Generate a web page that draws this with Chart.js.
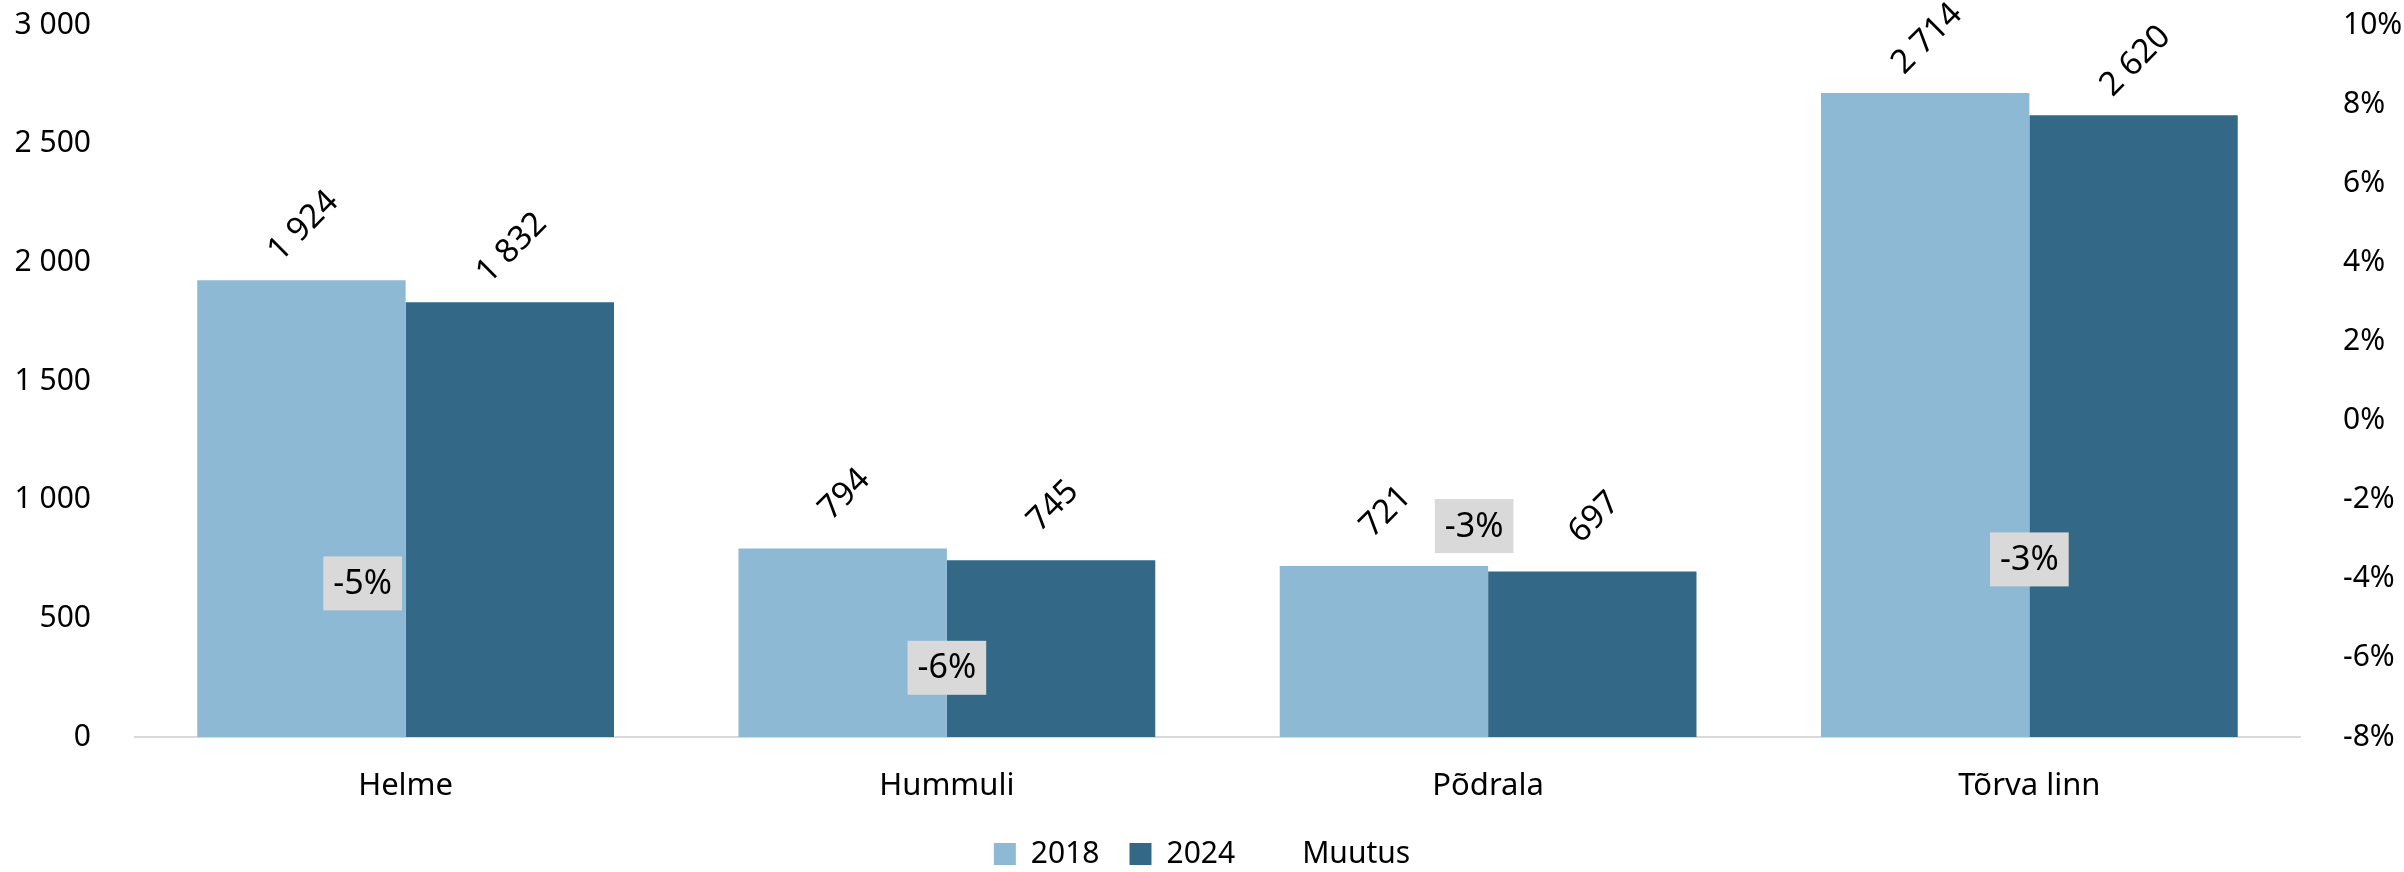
<!DOCTYPE html>
<html>
<head>
<meta charset="utf-8">
<script src="https://cdn.jsdelivr.net/npm/chart.js@4.4.1/dist/chart.umd.min.js"></script>
<style>
  html, body { margin: 0; padding: 0; background: #fff; }
  #wrap { width: 2404px; height: 872px; }
</style>
</head>
<body>
<div id="wrap"><canvas id="chart"></canvas></div>
<script>
var categories = ["Helme", "Hummuli", "Põdrala", "Tõrva linn"];
var values2018 = [1924, 794, 721, 2714];
var values2024 = [1832, 745, 697, 2620];
var change = [-4.8, -6.2, -3.3, -3.46];   // Muutus, %
var leftTicks = [0, 500, 1000, 1500, 2000, 2500, 3000];
var rightTicks = [-8, -6, -4, -2, 0, 2, 4, 6, 8, 10];

// the % labels were moved by hand in the original, keep those nudges (px)
var labelShift = [[-43, -27], [0, 2], [-14, -25], [0, 2]];

var FONT = '"Noto Sans", "Open Sans", sans-serif';

function fmt(n) {
  return String(n).replace(/\B(?=(\d{3})+(?!\d))/g, ' ');
}

var labelPlugin = {
  id: 'valueLabels',
  afterDatasetsDraw: function(chart) {
    var ctx = chart.ctx;
    ctx.save();
    ctx.textAlign = 'center';
    ctx.textBaseline = 'middle';

    // rotated bar values
    ctx.font = '33px ' + FONT;
    ctx.fillStyle = '#000';
    [0, 1].forEach(function(di) {
      var meta = chart.getDatasetMeta(di);
      meta.data.forEach(function(bar, i) {
        ctx.save();
        ctx.translate(bar.x + 2, bar.y - 54);
        ctx.rotate(-Math.PI / 4);
        ctx.fillText(fmt(chart.data.datasets[di].data[i]), 0, 0);
        ctx.restore();
      });
    });

    // change labels with grey box
    ctx.font = '34px ' + FONT;
    chart.getDatasetMeta(2).data.forEach(function(pt, i) {
      var txt = Math.round(change[i]) + '%';
      var x = pt.x + labelShift[i][0];
      var y = pt.y + labelShift[i][1];
      var w = ctx.measureText(txt).width + 20;
      ctx.fillStyle = '#D9D9D9';
      ctx.fillRect(x - w / 2, y - 27, w, 54);
      ctx.fillStyle = '#000';
      ctx.fillText(txt, x, y + 1);
    });
    ctx.restore();
  }
};

function sideFit(width) {
  return function(s) {
    s.width = width;
    s.paddingTop = 0;
    s.paddingBottom = 0;
  };
}

new Chart(document.getElementById('chart'), {
  type: 'bar',
  data: {
    labels: categories,
    datasets: [
      {
        label: '2018',
        data: values2018,
        backgroundColor: '#8DB9D4',
        yAxisID: 'y',
        order: 2
      },
      {
        label: '2024',
        data: values2024,
        backgroundColor: '#336886',
        yAxisID: 'y',
        order: 2
      },
      {
        type: 'line',
        label: 'Muutus',
        data: change,
        yAxisID: 'y1',
        showLine: false,
        pointRadius: 0,
        backgroundColor: 'rgba(0,0,0,0)',
        borderColor: 'rgba(0,0,0,0)',
        order: 1
      }
    ]
  },
  options: {
    responsive: true,
    maintainAspectRatio: false,
    animation: false,
    layout: { padding: { top: 25, left: 0, right: 0, bottom: -7 } },
    datasets: {
      bar: { barPercentage: 1.0, categoryPercentage: 0.77 }
    },
    plugins: {
      tooltip: { enabled: false },
      legend: {
        position: 'bottom',
        labels: {
          boxWidth: 22,
          boxHeight: 22,
          padding: 30,
          color: '#000',
          font: { family: FONT, size: 30 },
          sort: function(a, b) { return a.datasetIndex - b.datasetIndex; }
        }
      }
    },
    scales: {
      x: {
        grid: { display: false },
        border: { display: true, color: '#D9D9D9', width: 2 },
        ticks: { color: '#000', padding: 23, font: { family: FONT, size: 31 } },
        afterFit: function(s) { s.height = 72; }
      },
      y: {
        position: 'left',
        min: 0,
        max: 3000,
        afterBuildTicks: function(s) { s.ticks = leftTicks.map(function(v) { return { value: v }; }); },
        grid: { display: false },
        border: { display: false },
        ticks: {
          color: '#000',
          padding: 36,
          font: { family: FONT, size: 30 },
          callback: function(v) { return fmt(v); }
        },
        afterFit: sideFit(135)
      },
      y1: {
        position: 'right',
        min: -8,
        max: 10,
        afterBuildTicks: function(s) { s.ticks = rightTicks.map(function(v) { return { value: v }; }); },
        grid: { display: false },
        border: { display: false },
        ticks: {
          color: '#000',
          padding: 35,
          font: { family: FONT, size: 30 },
          callback: function(v) { return v + '%'; }
        },
        afterFit: sideFit(104)
      }
    }
  },
  plugins: [labelPlugin]
});
</script>
</body>
</html>
